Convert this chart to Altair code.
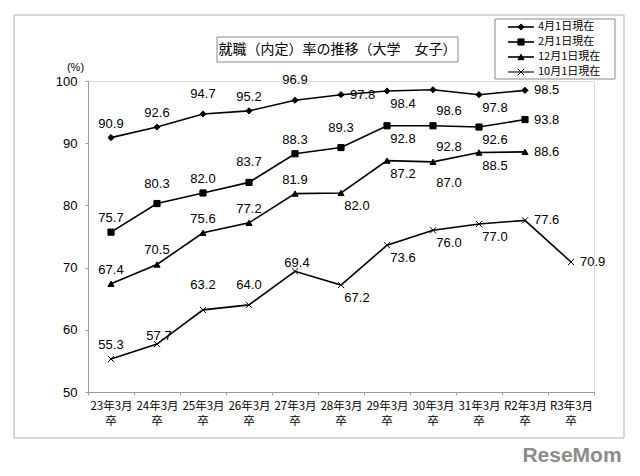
import altair as alt
import pandas as pd

categories = ["23年3月卒", "24年3月卒", "25年3月卒", "26年3月卒", "27年3月卒",
              "28年3月卒", "29年3月卒", "30年3月卒", "31年3月卒", "R2年3月卒", "R3年3月卒"]
series_names = ["4月1日現在", "2月1日現在", "12月1日現在", "10月1日現在"]

apr_values = [90.9, 92.6, 94.7, 95.2, 96.9, 97.8, 98.4, 98.6, 97.8, 98.5]
feb_values = [75.7, 80.3, 82.0, 83.7, 88.3, 89.3, 92.8, 92.8, 92.6, 93.8]
dec_values = [67.4, 70.5, 75.6, 77.2, 81.9, 82.0, 87.2, 87.0, 88.5, 88.6]
oct_values = [55.3, 57.7, 63.2, 64.0, 69.4, 67.2, 73.6, 76.0, 77.0, 77.6, 70.9]

# label placement codes (a=above, h=higher, H=highest, o=on point, b=below-right, l=lower-right, r=right)
apr_place = ["a", "a", "h", "a", "h", "r", "b", "l", "b", "r"]
feb_place = ["a", "h", "a", "h", "a", "h", "b", "l", "b", "r"]
dec_place = ["a", "a", "a", "a", "a", "b", "b", "l", "b", "r"]
oct_place = ["a", "o", "H", "h", "o", "b", "b", "b", "b", "r", "r"]

rows = []
for name, vals, places in zip(series_names,
                              [apr_values, feb_values, dec_values, oct_values],
                              [apr_place, feb_place, dec_place, oct_place]):
    for i, (v, p) in enumerate(zip(vals, places)):
        rows.append({"cat": categories[i], "idx": i, "series": name, "value": v, "place": p})
df = pd.DataFrame(rows)
cat_df = pd.DataFrame({"cat": categories})

JP = "Noto Sans CJK JP"
NUM = "Liberation Sans Narrow, Arial Narrow, Liberation Sans, Arial"

xscale = alt.Scale(type="band", domain=categories, paddingInner=0, paddingOuter=0)
x_enc = alt.X("cat:N", scale=xscale, sort=categories,
              axis=alt.Axis(title=None, labelExpr="substring(datum.label, 0, length(datum.label) - 1)",
                            labelFont=JP, labelFontSize=11.5, labelColor="#000",
                            labelPadding=5, tickBand="extent", tickSize=3, tickColor="#999",
                            domainColor="#999", labelAngle=0))
y_enc = alt.Y("value:Q", scale=alt.Scale(domain=[50, 100], nice=False, zero=False),
              axis=alt.Axis(values=[50, 60, 70, 80, 90, 100], grid=False, title="(%)", titleAngle=0,
                            titleX=-13, titleY=-14, titleAlign="center", titleBaseline="middle",
                            titleFont=NUM, titleFontSize=11, titleFontWeight="normal",
                            labelFont=NUM, labelFontSize=13, labelColor="#000", labelPadding=8,
                            tickSize=3, tickColor="#999", domainColor="#999"))

base = alt.Chart(df)

line_widths = [1.6, 1.6, 1.6, 1.1]
lines = base.mark_line(color="black").encode(
    x=x_enc, y=y_enc,
    strokeWidth=alt.StrokeWidth("series:N", scale=alt.Scale(domain=series_names, range=line_widths),
                                legend=None),
    order="idx:Q",
)

marker_shapes = ["diamond", "square", "triangle-up", "M-1,-1L1,1M-1,1L1,-1"]
point_layers = []
for name, shp in zip(series_names, marker_shapes):
    point_layers.append(
        base.transform_filter(alt.datum.series == name).mark_point(
            shape=shp, filled=True, fill="black", stroke="black", strokeWidth=1, opacity=1, size=38
        ).encode(x=x_enc, y=y_enc)
    )

offsets = {"a": (0, -14, "center"), "h": (0, -20, "center"), "H": (0, -25, "center"),
           "o": (2, -8, "center"), "b": (16, 13, "center"), "l": (16, 21, "center"),
           "r": (9, 0, "left")}
text_layers = []
for code, (dx, dy, al) in offsets.items():
    text_layers.append(
        base.transform_filter(alt.datum.place == code).mark_text(
            dx=dx, dy=dy, align=al, baseline="middle", font=NUM, fontSize=13, color="black"
        ).encode(x=x_enc, y=y_enc, text=alt.Text("value:Q", format=".1f"))
    )

# second line of the x-axis labels
sotsu = alt.Chart(cat_df).mark_text(font=JP, fontSize=11.5, color="black", baseline="middle").encode(
    x=x_enc, y=alt.value(341), text=alt.value("卒"))

one = pd.DataFrame({"k": [0]})

# legend box drawn by hand (line + marker + label per series)
legend_rows_y = [-54, -39, -24, -9]
legend_layers = [alt.Chart(one).mark_rect(fill="white", stroke="#888", strokeWidth=1).encode(
    x=alt.value(407), x2=alt.value(527), y=alt.value(-62), y2=alt.value(-2))]
for name, shp, lw, ly in zip(series_names, marker_shapes, line_widths, legend_rows_y):
    legend_layers.append(alt.Chart(one).mark_rule(color="black", strokeWidth=lw).encode(
        x=alt.value(420), x2=alt.value(446), y=alt.value(ly)))
    legend_layers.append(alt.Chart(one).mark_point(
        shape=shp, filled=True, fill="black", stroke="black", strokeWidth=1, opacity=1, size=38
    ).encode(x=alt.value(433), y=alt.value(ly)))
    legend_layers.append(alt.Chart(one).mark_text(
        font=JP, fontSize=11, color="black", align="left", baseline="middle"
    ).encode(x=alt.value(450), y=alt.value(ly), text=alt.value(name)))

frame = alt.Chart(one).mark_rect(fill="white", fillOpacity=0, stroke="#b0b0b0", strokeWidth=1).encode(
    x=alt.value(-74), x2=alt.value(536), y=alt.value(-66), y2=alt.value(357))
title_box = alt.Chart(one).mark_rect(fill="white", stroke="#888", strokeWidth=1).encode(
    x=alt.value(129), x2=alt.value(370), y=alt.value(-44), y2=alt.value(-19))
title_text = alt.Chart(one).mark_text(font=JP, fontSize=14, color="black", align="center",
                                      baseline="middle").encode(
    x=alt.value(249.5), y=alt.value(-31), text=alt.value("就職（内定）率の推移（大学　女子）"))
watermark = alt.Chart(one).mark_text(font="Liberation Sans, Arial", fontSize=21, fontWeight="bold",
                                     color="#8c8c8c", align="center", baseline="middle").encode(
    x=alt.value(484), y=alt.value(375), text=alt.value("ReseMom"))

chart = alt.layer(frame, title_box, title_text, lines, *point_layers, *text_layers, sotsu,
                  *legend_layers, watermark).properties(
    width=506, height=311,
    autosize=alt.AutoSizeParams(type="none"),
    padding={"left": 80, "top": 73, "right": 38, "bottom": 80},
).configure_view(stroke=None).configure(background="white")

chart.save("out.html", embed_options={"renderer": "svg", "actions": False})
